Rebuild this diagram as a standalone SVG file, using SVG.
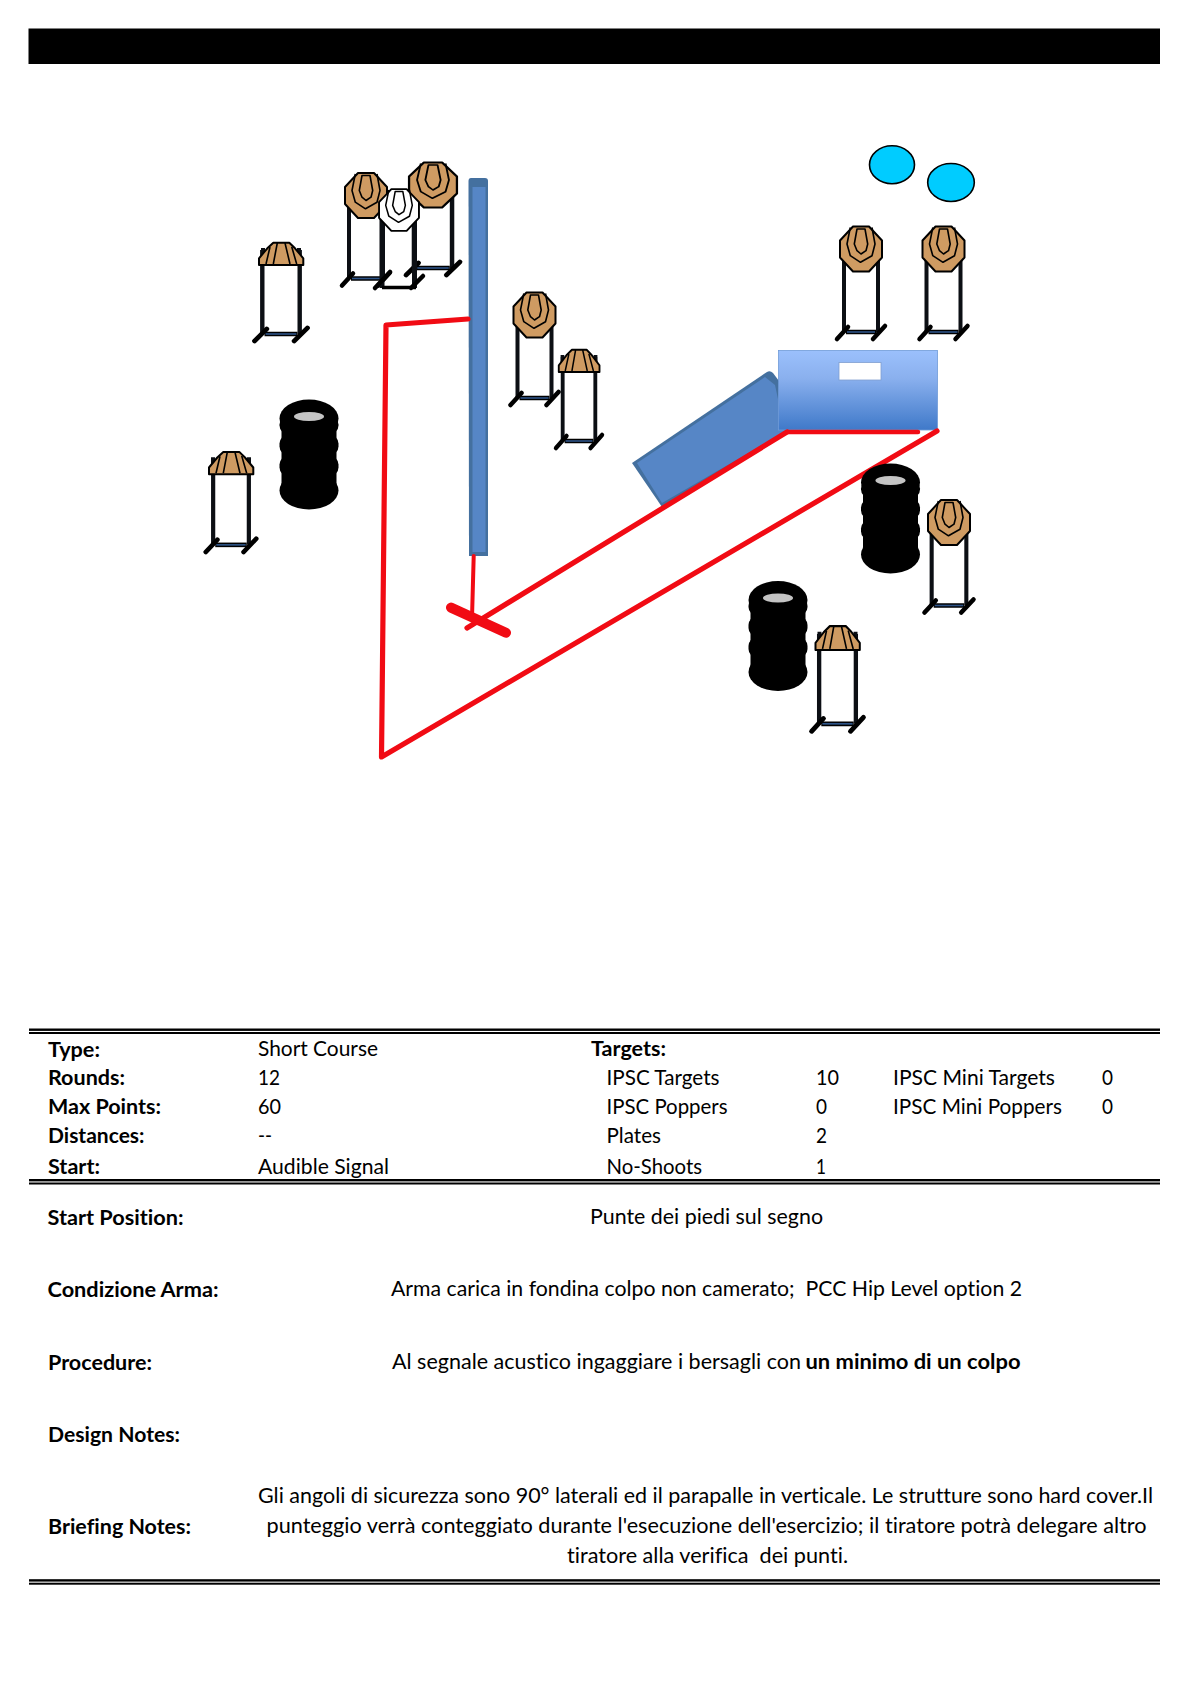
<svg xmlns="http://www.w3.org/2000/svg" width="1191" height="1684" viewBox="0 0 1191 1684">
<style>
text{font-family:"Lato","Liberation Sans",sans-serif;font-size:20.5px;fill:#000;font-variant-ligatures:none}
.b{font-weight:700}
.rule{fill:#000}
.red{fill:none;stroke:#f10b14;stroke-linecap:round;stroke-linejoin:round}
.leg{fill:none;stroke:#0c0f14;stroke-width:4}
.foot{fill:none;stroke:#000;stroke-width:4.5;stroke-linecap:round}
.ln{fill:none;stroke:#000;stroke-width:1.6;stroke-linejoin:round}
.plate{fill:#00ccff;stroke:#000;stroke-width:1.6}
</style>
<defs>
<linearGradient id="boxg" x1="0" y1="0" x2="0" y2="1"><stop offset="0" stop-color="#9bc0fc"/><stop offset=".35" stop-color="#8ab0ee"/><stop offset="1" stop-color="#3f79c9"/></linearGradient>
<g id="stand">
<path class="leg" d="M-17-1V83M17-1V83"/>
<path class="foot" d="M-24 90L-13 78M12 90L24 77"/>
<path d="M-15 83H15" stroke="#000" stroke-width="4.5" fill="none"/>
<path d="M-14 83H14" stroke="#2d5387" stroke-width="1.6" fill="none"/>
</g>
<g id="octa">
<path stroke="#000" stroke-width="2" stroke-linejoin="round" d="M-8-22.5H8L21-8.5V8.5L8 22.5H-8L-21 8.5V-8.5Z"/>
<path class="ln" d="M-10.7-21.5L-14-5L-10.7 6.7L-.5 13.3L11 6.7L14-5L11-21.5"/>
<path class="ln" d="M-4-20L-6.7-5L-4 1.7L0 5L5 1.7L6.7-5L4-20Z"/>
</g>
<g id="half">
<path class="leg" d="M-18-3V12M18-3V12"/>
<path fill="#cf9b62" stroke="#000" stroke-width="2" stroke-linejoin="round" d="M-7.7-8.3H8.3L14-2.7L22.3 7.3V14H-22V7.3L-13.7-2.7Z"/>
<path class="ln" d="M-11-4L-15 13M-3.7-8L-7.7 13M4-8L9 13M10.7-4.3L15.7 13"/>
</g>
<g id="stack">
<ellipse cx="0" cy="19" rx="29.5" ry="19"/>
<rect x="-29.5" y="17" width="59" height="17" rx="8"/>
<rect x="-29.5" y="36" width="59" height="19" rx="8"/>
<rect x="-29.5" y="57" width="59" height="19" rx="8"/>
<rect x="-27.5" y="19" width="55" height="72"/>
<ellipse cx="0" cy="91" rx="29.5" ry="19"/>
<ellipse cx="0" cy="17" rx="15" ry="4.6" fill="#c4c4c4"/>
</g>
</defs>

<rect x="0" y="0" width="1191" height="1684" fill="#fff"/>
<rect id="banner" x="28.5" y="28.5" width="1131.5" height="35.5" fill="#000"/>

<g id="barrier-vertical">
<path fill="#44709f" d="M468.5 181Q468.5 178 471 178H485Q488 178 488 181V556H469Z"/>
<rect x="472.5" y="187" width="13" height="365" fill="#5686c6"/>
</g>
<g id="barrier-diagonal">
<path fill="#44709f" d="M632 463L767 372Q770 370 773 373L782 385L790 432L662 507Z"/>
<path fill="#5686c6" d="M637 463L765 377L775 385L785 432L662 503Z"/>
</g>
<g id="box">
<rect x="778.5" y="350.5" width="159" height="79.5" fill="url(#boxg)" stroke="#6f9bd8" stroke-width=".8"/>
<rect x="839" y="362.5" width="42" height="17.5" fill="#fff" stroke="#7f9fcf" stroke-width=".8"/>
</g>
<g id="connectors">
<path class="red" stroke-width="5.2" d="M468 319L386 325L381.5 757L937 431"/>
<path class="red" stroke-width="4.5" d="M787 432H918"/>
<path class="red" stroke-width="5.2" d="M787 432L467 628"/>
<path class="red" stroke-width="4" d="M473.7 556L472 618"/>
<path class="red" stroke-width="10" d="M451 607.6L506 632.7"/>
</g>
<g id="plate-1"><ellipse class="plate" cx="892" cy="164.7" rx="22.5" ry="19"/></g>
<g id="plate-2"><ellipse class="plate" cx="951" cy="182.5" rx="23.3" ry="19"/></g>

<g id="tires-1"><use href="#stack" x="309" y="399.5"/></g>
<g id="tires-2"><use href="#stack" x="890.5" y="463.5"/></g>
<g id="tires-3"><use href="#stack" x="778" y="581"/></g>

<g id="target-1" fill="#cf9b62" transform="translate(366 195.5)"><use href="#stand"/><use href="#octa"/></g>
<g id="target-2" fill="#cf9b62" transform="translate(433 185)"><use href="#stand" transform="scale(1.12 1)"/><use href="#octa" transform="scale(1.14 1)"/></g>
<g id="noshoot" fill="#fff" transform="translate(399 210)">
<path class="leg" d="M-17 0V78M15.5 0V78" style="stroke-width:5"/>
<path class="foot" d="M-24 78L-9 62M12 78L24 66"/>
<path d="M-17 77.5H17" stroke="#000" stroke-width="3.5" fill="none"/>
<use href="#octa" transform="scale(.95 .93)"/></g>
<g id="target-3" fill="#cf9b62" transform="translate(534.5 315)"><use href="#stand"/><use href="#octa"/></g>
<g id="target-4" fill="#cf9b62" transform="translate(861 249)"><use href="#stand"/><use href="#octa"/></g>
<g id="target-5" fill="#cf9b62" transform="translate(943.5 249)"><use href="#stand"/><use href="#octa"/></g>
<g id="target-6" fill="#cf9b62" transform="translate(949 522.5)"><use href="#stand" transform="scale(1.02 1)"/><use href="#octa"/></g>
<g id="target-7" transform="translate(281 251)"><use href="#stand" transform="scale(1.1 1)"/><use href="#half"/></g>
<g id="target-8" transform="translate(579 358)"><use href="#stand" transform="scale(.96 1)"/><use href="#half" transform="scale(.92 1)"/></g>
<g id="target-9" transform="translate(231 460.2)"><use href="#stand" transform="scale(1.05 1.02)"/><use href="#half"/></g>
<g id="target-10" transform="translate(837.5 635)"><use href="#stand" transform="scale(1.08 1.07)"/><use href="#half" transform="scale(1 1.07)"/></g>

<g id="rules">
<rect class="rule" x="29" y="1028.5" width="1131" height="2.4"/><rect class="rule" x="29" y="1032" width="1131" height="2"/>
<rect class="rule" x="29" y="1179" width="1131" height="2.4"/><rect class="rule" x="29" y="1182.5" width="1131" height="2"/>
<rect class="rule" x="29" y="1579.2" width="1131" height="2.4"/><rect class="rule" x="29" y="1582.7" width="1131" height="2"/>
</g>
<g id="info">
<text class="b" x="48" y="1056.5" textLength="52" lengthAdjust="spacingAndGlyphs">Type:</text>
<text class="b" x="48" y="1085.3" textLength="77" lengthAdjust="spacingAndGlyphs">Rounds:</text>
<text class="b" x="48" y="1114.3" textLength="113" lengthAdjust="spacingAndGlyphs">Max Points:</text>
<text class="b" x="48" y="1143.3" textLength="96.5" lengthAdjust="spacingAndGlyphs">Distances:</text>
<text class="b" x="48" y="1173.5" textLength="52" lengthAdjust="spacingAndGlyphs">Start:</text>
<text x="258" y="1056.3" textLength="120" lengthAdjust="spacingAndGlyphs">Short Course</text>
<text x="258" y="1085.3" textLength="22" lengthAdjust="spacingAndGlyphs">12</text>
<text x="258" y="1114.3" textLength="23" lengthAdjust="spacingAndGlyphs">60</text>
<text x="258" y="1143.3" textLength="14" lengthAdjust="spacingAndGlyphs">--</text>
<text x="258" y="1173.5" textLength="131" lengthAdjust="spacingAndGlyphs">Audible Signal</text>
<text class="b" x="591" y="1056.3" textLength="75" lengthAdjust="spacingAndGlyphs">Targets:</text>
<text x="606.5" y="1085.3" textLength="113" lengthAdjust="spacingAndGlyphs">IPSC Targets</text>
<text x="606.5" y="1114.3" textLength="121" lengthAdjust="spacingAndGlyphs">IPSC Poppers</text>
<text x="606.5" y="1143.3" textLength="54.5" lengthAdjust="spacingAndGlyphs">Plates</text>
<text x="606.5" y="1173.5" textLength="95.5" lengthAdjust="spacingAndGlyphs">No-Shoots</text>
<text x="816" y="1085.3" textLength="23" lengthAdjust="spacingAndGlyphs">10</text>
<text x="816" y="1114.3" textLength="11" lengthAdjust="spacingAndGlyphs">0</text>
<text x="816" y="1143.3" textLength="11" lengthAdjust="spacingAndGlyphs">2</text>
<text x="816" y="1173.5" textLength="10" lengthAdjust="spacingAndGlyphs">1</text>
<text x="893" y="1085.3" textLength="162" lengthAdjust="spacingAndGlyphs">IPSC Mini Targets</text>
<text x="893" y="1114.3" textLength="169" lengthAdjust="spacingAndGlyphs">IPSC Mini Poppers</text>
<text x="1102" y="1085.3" textLength="11" lengthAdjust="spacingAndGlyphs">0</text>
<text x="1102" y="1114.3" textLength="11" lengthAdjust="spacingAndGlyphs">0</text>
</g>
<g id="notes">
<text class="b" x="47.5" y="1225" textLength="136" lengthAdjust="spacingAndGlyphs">Start Position:</text>
<text class="b" x="47.5" y="1296.5" textLength="171" lengthAdjust="spacingAndGlyphs">Condizione Arma:</text>
<text class="b" x="48" y="1369.5" textLength="104" lengthAdjust="spacingAndGlyphs">Procedure:</text>
<text class="b" x="48" y="1441.5" textLength="132" lengthAdjust="spacingAndGlyphs">Design Notes:</text>
<text class="b" x="48" y="1534" textLength="143" lengthAdjust="spacingAndGlyphs">Briefing Notes:</text>
<text x="590" y="1224" textLength="233" lengthAdjust="spacingAndGlyphs">Punte dei piedi sul segno</text>
<text x="391" y="1296" textLength="631" lengthAdjust="spacingAndGlyphs" xml:space="preserve">Arma carica in fondina colpo non camerato;  PCC Hip Level option 2</text>
<text x="392" y="1369"><tspan textLength="409" lengthAdjust="spacingAndGlyphs">Al segnale acustico ingaggiare i bersagli con</tspan><tspan class="b" x="805.5" textLength="215" lengthAdjust="spacingAndGlyphs">un minimo di un colpo</tspan></text>
<text x="258" y="1502.5" textLength="895" lengthAdjust="spacingAndGlyphs">Gli angoli di sicurezza sono 90° laterali ed il parapalle in verticale. Le strutture sono hard cover.Il</text>
<text x="266.5" y="1533" textLength="880" lengthAdjust="spacingAndGlyphs">punteggio verrà conteggiato durante l'esecuzione dell'esercizio; il tiratore potrà delegare altro</text>
<text x="567" y="1563" textLength="281" lengthAdjust="spacingAndGlyphs" xml:space="preserve">tiratore alla verifica  dei punti.</text>
</g>
</svg>
